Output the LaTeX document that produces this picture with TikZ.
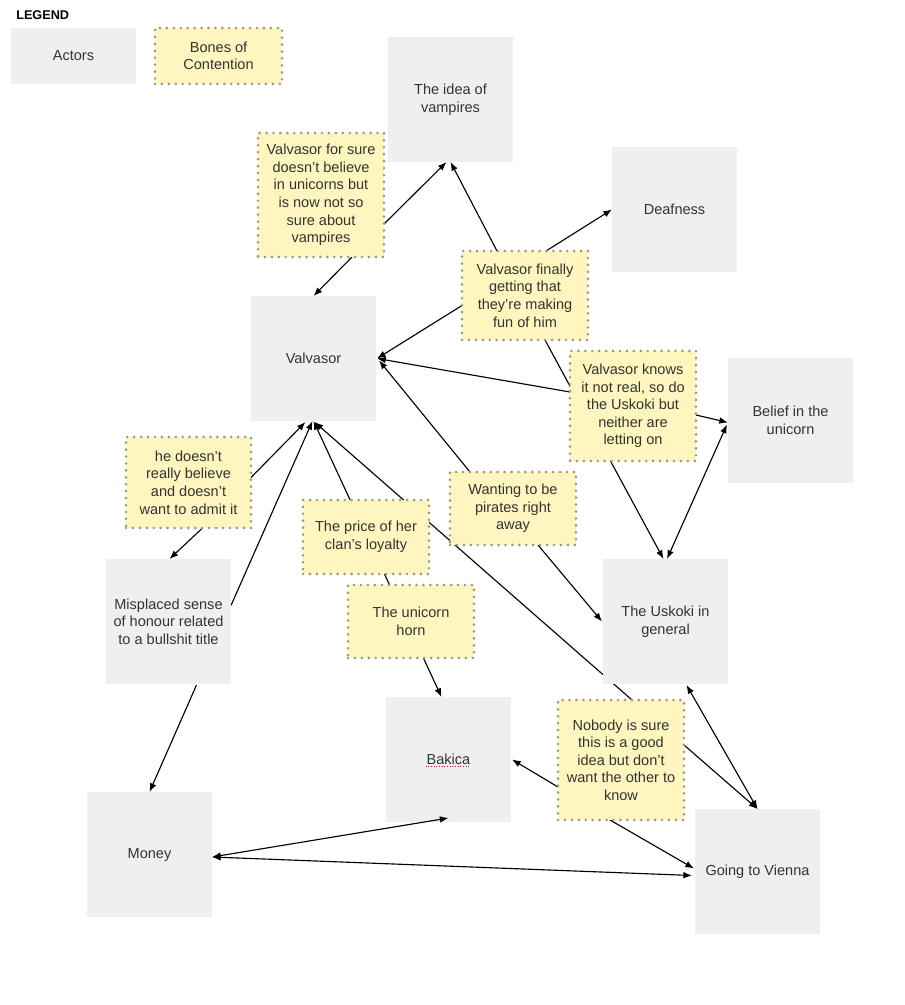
\documentclass[tikz,border=0pt]{standalone}
\usepackage{fontspec}
\setmainfont{Liberation Sans}
\usetikzlibrary{arrows.meta,calc,backgrounds}
\definecolor{actorgray}{HTML}{EEEFEF}
\definecolor{boneyellow}{HTML}{FEF6BE}
\definecolor{dotcol}{HTML}{9C9A78}
\definecolor{textcol}{HTML}{333333}
\tikzset{
  actor/.style={fill=actorgray, minimum width=93.75pt, minimum height=93.75pt,
    inner sep=0pt, outer sep=0pt, align=center, text=textcol,
    font=\fontsize{10.9}{13.2}\selectfont},
  bone/.style={fill=boneyellow, draw=dotcol, line width=2.2pt,
    dash pattern=on 0pt off 5.2pt, line cap=round,
    minimum width=94.5pt, minimum height=#1, inner sep=0pt, outer sep=0pt,
    align=center, text=textcol, font=\fontsize{10.9}{13.2}\selectfont},
  conn/.style={draw=black, line width=0.85pt, -{Latex[length=6.5pt,width=5pt]}},
  dconn/.style={draw=black, line width=0.85pt, {Latex[length=6.5pt,width=5pt]}-{Latex[length=6.5pt,width=5pt]}},
  legendtitle/.style={font=\fontsize{9.5}{11}\selectfont\bfseries, text=black, inner sep=0pt, anchor=west}
}
\begin{document}
\begin{tikzpicture}[x=0.75pt,y=-0.75pt]
\useasboundingbox (0,0) rectangle (905,1005);

% legend
\node[legendtitle] (legtitle) at (16,15) {LEGEND};
\node[actor, minimum height=42pt] (legA) at (73.5,56) {Actors};
\node[bone=42pt, minimum width=95.25pt] (legB) at (218.5,56) {Bones of\\Contention};

% actors
\node[actor] (vamp) at (450.5,99.5) {The idea of\\vampires};
\node[actor] (deaf) at (674.5,209.5) {Deafness};
\node[actor] (valv) at (313.5,358.5) {Valvasor};
\node[actor] (belief) at (790.5,420.5) {Belief in the\\unicorn};
\node[actor] (misp) at (168.5,621.5) {Misplaced sense\\of honour related\\to a bullshit title};
\node[actor] (usk) at (665.5,621.5) {The Uskoki in\\general};
\node[actor] (bak) at (448.5,759.5) {Bakica};
\node[actor] (money) at (149.5,854.5) {Money};
\node[actor] (vienna) at (757.5,871.5) {Going to Vienna};

% spell-check underline under Bakica
\draw[red, line width=0.9pt, dash pattern=on 0.9pt off 1.1pt] ($(bak.center)+(-23,7)$) -- ($(bak.center)+(21,7)$);

% bones of contention
\node[bone=93pt] (ysure) at (321,195) {Valvasor for sure\\doesn't believe\\in unicorns but\\is now not so\\sure about\\vampires};
\node[bone=66.75pt] (yfinal) at (525,295.5) {Valvasor finally\\getting that\\they're making\\fun of him};
\node[bone=82.5pt] (yknows) at (633,406) {Valvasor knows\\it not real, so do\\the Uskoki but\\neither are\\letting on};
\node[bone=68.25pt, minimum width=93.75pt] (yhe) at (188.5,482.5) {he doesn't\\really believe\\and doesn't\\want to admit it};
\node[bone=54.75pt] (ywant) at (513,508.5) {Wanting to be\\pirates right\\away};
\node[bone=55.5pt] (yprice) at (366,537) {The price of her\\clan's loyalty};
\node[bone=54.75pt] (yhorn) at (411,621.5) {The unicorn\\horn};
\node[bone=90pt] (ynobody) at (621,760) {Nobody is sure\\this is a good\\idea but don't\\want the other to\\know};

% this connector's tip sits just inside Bakica, so it is drawn on top
\draw[dconn] ($(money.east)+(0,2.5)$) -- ($(bak.south)+(0,-4)$);

\begin{pgfonlayer}{background}
\fill[white] (0,0) rectangle (905,1005);
\draw[conn] ($(ysure.east)+(0,29)$) -- ($(vamp.south)+(-4,0)$);
\draw[conn] ($(ysure.south)+(31,0)$) -- (valv.north);
\draw[conn] ($(yfinal.north)+(-28,0)$) -- (vamp.south);
\draw[conn] ($(yfinal.north)+(21,0)$) -- (deaf.west);
\draw[conn] ($(yfinal.west)+(0,10)$) -- ($(valv.east)+(1,0)$);
\draw[conn] ($(yfinal.south)+(20,0)$) -- ($(usk.north)+(-2,0)$);
\draw[conn] ($(yknows.west)+(0,-14)$) -- ($(valv.east)+(1,0)$);
\draw[conn] ($(yknows.east)+(0,9)$) -- ($(belief.west)+(0,2)$);
\draw[dconn] ($(usk.north)+(1.5,0)$) -- ($(belief.west)+(-1,4)$);
\draw[conn] ($(ywant.north)+(-43,0)$) -- ($(valv.east)+(3,2)$);
\draw[conn] ($(ywant.south)+(25,0)$) -- ($(usk.west)+(-1,0)$);
\draw[conn] ($(yhe.south)+(14,0)$) -- ($(misp.north)+(1,0)$);
\draw[conn] ($(yhe.east)+(0,-5)$) -- ($(valv.south)+(-8,1)$);
\draw[conn] ($(misp.east)+(0,-16)$) -- ($(valv.south)+(-1,0)$);
\draw[dconn] ($(valv.south)+(0,0)$) -- ($(bak.north)+(-7,0)$);
\draw[conn] ($(ynobody.north)+(11,0)$) -- ($(valv.south)+(1,1)$);
\draw[dconn] ($(usk.south)+(21,1)$) -- (vienna.north);
\draw[conn] ($(ynobody.east)+(0,-15)$) -- (vienna.north);
\draw[conn] ($(ynobody.west)+(0,27)$) -- ($(bak.east)+(1,0)$);
\draw[conn] ($(ynobody.south)+(-11,0)$) -- ($(vienna.west)+(-1,-3)$);
\draw[dconn] ($(money.east)+(0,2.5)$) -- ($(vienna.west)+(-3,4)$);
\draw[conn] ($(misp.south)+(28,1)$) -- (money.north);
\end{pgfonlayer}
\end{tikzpicture}
\end{document}
